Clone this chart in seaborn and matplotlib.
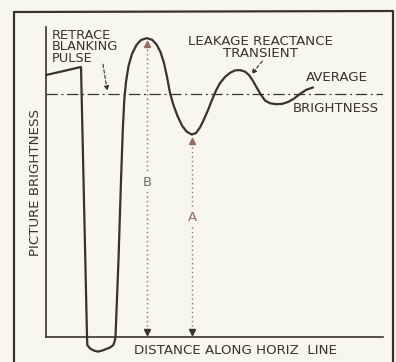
import numpy as np
import matplotlib
matplotlib.use("Agg")
import matplotlib.pyplot as plt
from matplotlib.lines import Line2D
import seaborn as sns

# Trace of picture brightness along one horizontal line (relative units)
distance = [0.0, 10.39, 12.17, 12.26, 13.06, 14.24, 15.43, 16.62, 17.80, 18.99,
            19.97, 20.47, 20.62, 21.51, 22.26, 22.79, 23.23, 23.74, 24.48, 25.52,
            26.85, 28.19, 29.88, 31.45, 32.79, 33.98, 35.01, 35.91, 36.80, 37.83,
            39.02, 40.36, 41.69, 43.24, 44.51, 45.70, 46.88, 48.07, 49.26, 50.45,
            51.63, 53.12, 54.60, 56.08, 57.57, 59.05, 60.24, 61.42, 62.61, 63.80,
            64.99, 66.47, 68.25, 70.03, 71.81, 73.59, 75.37, 77.15, 79.23]
brightness = [84.5, 87.1, 0.0, -2.6, -3.7, -4.4, -4.7, -4.4, -3.9, -3.4,
              -2.6, -1.0, 0.0, 24.8, 50.6, 66.8, 76.5, 82.3, 87.4, 91.3,
              94.2, 95.8, 96.4, 95.9, 94.4, 91.9, 88.4, 83.9, 78.7, 74.8,
              71.3, 68.2, 66.3, 65.3, 65.8, 67.6, 70.2, 73.2, 76.5, 79.5,
              81.9, 83.9, 85.2, 86.0, 86.1, 85.6, 84.5, 82.6, 80.3, 78.1,
              76.3, 75.4, 75.1, 75.2, 75.8, 76.9, 78.4, 79.7, 80.5]
average_brightness = 78.4

x_label = "DISTANCE ALONG HORIZ  LINE"
y_label = "PICTURE BRIGHTNESS"
pulse_label = "RETRACE\nBLANKING\nPULSE"
transient_label = "LEAKAGE REACTANCE\nTRANSIENT"

paper = "#f7f7ee"
ink = "#3a322d"
rust = "#9a6a5c"

sns.set_theme(style="white")
plt.rcParams["font.family"] = ["DejaVu Sans"]

fig = plt.figure(figsize=(3.96, 3.62), dpi=100, facecolor=paper)
ax = fig.add_axes([46 / 396, 25 / 362, 337 / 396, 310 / 362])
ax.set_facecolor(paper)
ax.set_xlim(0, 100)
ax.set_ylim(0, 100)

# brightness curve
sns.lineplot(x=distance, y=brightness, sort=False, estimator=None, ax=ax,
             color=ink, linewidth=1.6, clip_on=False, zorder=4,
             solid_joinstyle="round", solid_capstyle="round")

# average brightness reference
ax.axhline(average_brightness, color=ink, linewidth=0.9,
           linestyle=(0, (9, 3, 1.5, 3)), zorder=2)

# dimensions A and B
d = np.array(distance)
b = np.array(brightness)
i_peak = int(np.argmax(b))
after = np.where(d > d[i_peak])[0]
i_trough = after[np.argmin(b[after])]
for i, lab, ly, col in [(i_peak, "B", 49.7, "#6d7565"), (i_trough, "A", 38.7, rust)]:
    ax.vlines(d[i], 0.6, b[i] - 1.0, colors=rust, linestyles=(0, (1, 2.2)),
              linewidth=1.0, zorder=3)
    ax.plot([d[i]], [b[i] - 2.0], marker="^", color=rust, markersize=4, zorder=3)
    ax.plot([d[i]], [1.6], marker="v", color=ink, markersize=4, zorder=3,
            clip_on=False)
    ax.text(d[i] + 0.2, ly, lab, ha="center", va="center", fontsize=9.5,
            color=col, zorder=5,
            bbox=dict(boxstyle="square,pad=0.15", facecolor=paper, edgecolor="none"))

# callouts
ax.text(1.8, 93.6, pulse_label, ha="left", va="center", fontsize=9.3,
        color=ink, linespacing=0.86)
ax.annotate("", xy=(18.2, 79.4), xytext=(16.9, 88.0),
            arrowprops=dict(arrowstyle="-|>", color=ink, lw=0.8, linestyle=(0, (3, 2)),
                            mutation_scale=7, shrinkA=0, shrinkB=0))
ax.text(63.6, 93.4, transient_label, ha="center", va="center", fontsize=9.6,
        color=ink, linespacing=0.95)
ax.annotate("", xy=(61.0, 84.8), xytext=(64.2, 89.0),
            arrowprops=dict(arrowstyle="-|>", color=ink, lw=0.8, linestyle=(0, (3, 2)),
                            mutation_scale=7, shrinkA=0, shrinkB=0))
ax.text(86.2, 83.6, "AVERAGE", ha="center", va="center", fontsize=9.6, color=ink)
ax.text(86.0, 73.6, "BRIGHTNESS", ha="center", va="center", fontsize=9.6, color=ink)

# axes styling
for side in ["top", "right"]:
    ax.spines[side].set_visible(False)
for side in ["left", "bottom"]:
    ax.spines[side].set_color(ink)
    ax.spines[side].set_linewidth(1.2)
ax.set_xticks([])
ax.set_yticks([])
ax.set_ylabel(y_label, fontsize=9.6, color=ink, labelpad=3)
ax.set_xlabel(x_label, fontsize=9.6, color=ink)
ax.xaxis.set_label_coords((236 - 46) / 337, -0.022)

# outer frame
W, H = 396, 362
for (x0, y0), (x1, y1) in [((14, 12), (14, 362)), ((14, 12), (393, 11)),
                           ((393, 11), (393, 362))]:
    fig.add_artist(Line2D([x0 / W, x1 / W], [1 - y0 / H, 1 - y1 / H],
                          color=ink, linewidth=1.6))

fig.savefig("out.png", dpi=100, facecolor=paper)
